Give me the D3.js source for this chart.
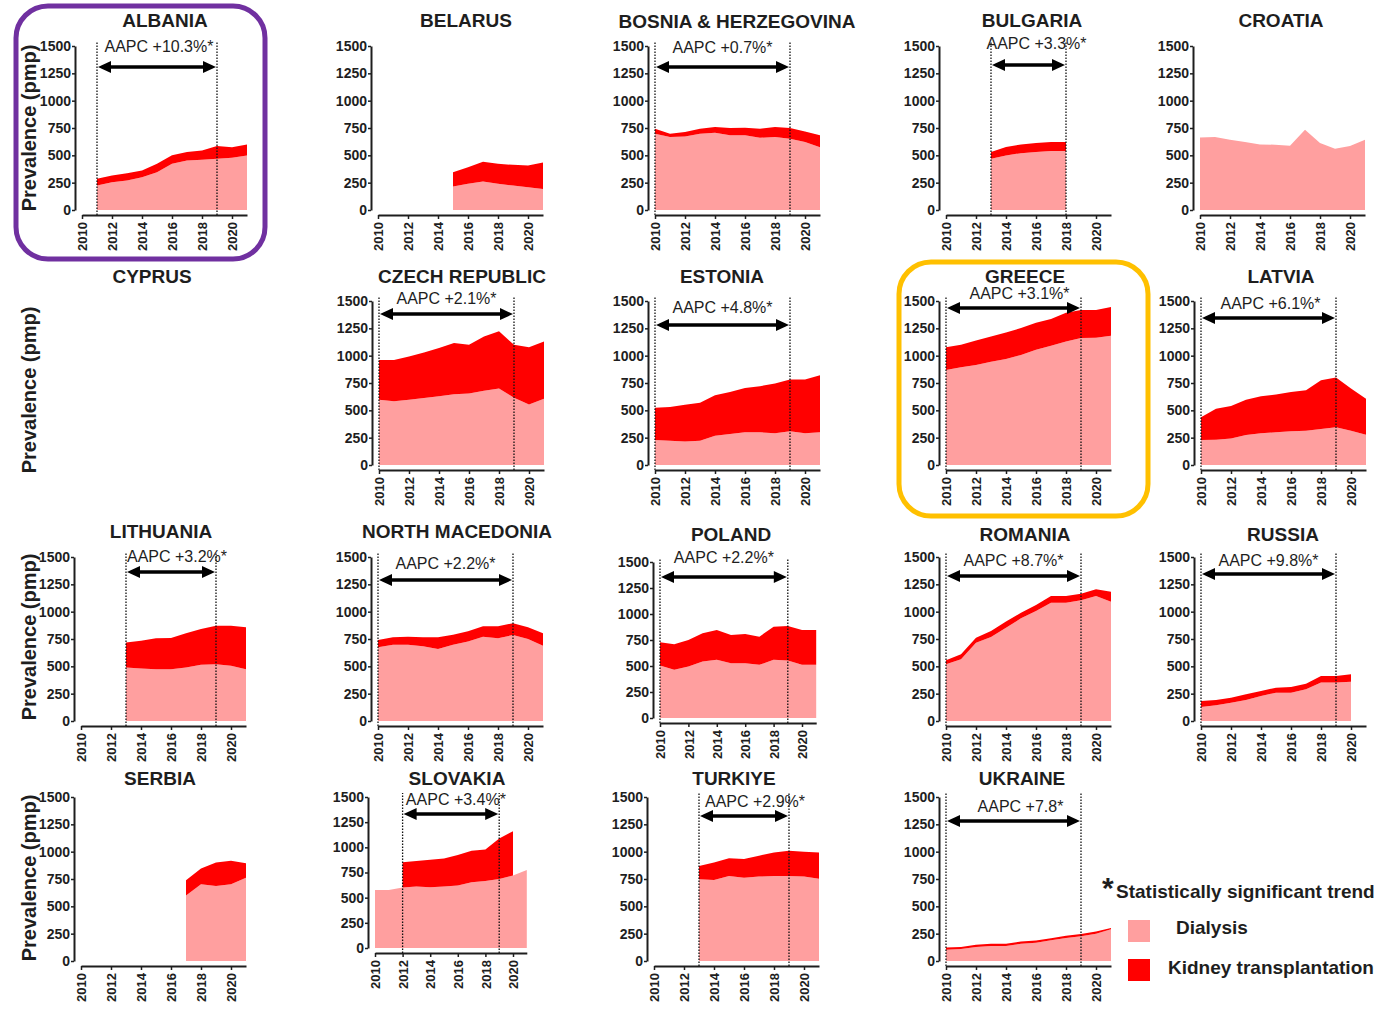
<!DOCTYPE html>
<html>
<head>
<meta charset="utf-8">
<script src="https://cdn.jsdelivr.net/npm/d3@7"></script>
<style>
  body { margin: 0; background: #fff; }
  svg { display: block; }
  text { font-family: "Liberation Sans", Arial, Helvetica, sans-serif; fill: #1e1e1e; }
</style>
</head>
<body>
<svg id="chart" width="1384" height="1009"></svg>
<script>
// ---------------- DATA ----------------
const countries = ["ALBANIA", "BELARUS", "BOSNIA & HERZEGOVINA", "BULGARIA", "CROATIA",
  "CYPRUS", "CZECH REPUBLIC", "ESTONIA", "GREECE", "LATVIA",
  "LITHUANIA", "NORTH MACEDONIA", "POLAND", "ROMANIA", "RUSSIA",
  "SERBIA", "SLOVAKIA", "TURKIYE", "UKRAINE"];

const years = [2010, 2011, 2012, 2013, 2014, 2015, 2016, 2017, 2018, 2019, 2020, 2021];
const yTicks = [0, 250, 500, 750, 1000, 1250, 1500];
const xTicks = [2010, 2012, 2014, 2016, 2018, 2020];
const seriesNames = ["Dialysis", "Kidney transplantation"];
const yAxisTitle = "Prevalence (pmp)";
const footnote = "Statistically significant trend";

// Dialysis prevalence (pmp), one row per country, 2010–2021
const dialysis = [
  [null, 223, 254, 270, 300, 346, 422, 453, 459, 468, 478, 499],
  [null, null, null, null, null, 214, 239, 260, 239, 223, 208, 193],
  [698, 667, 673, 698, 707, 683, 683, 661, 667, 652, 621, 575],
  [null, null, null, 469, 499, 520, 530, 539, 539, null, null, null],
  [662, 667, 643, 621, 600, 597, 588, 735, 612, 560, 585, 643],
  [null, null, null, null, null, null, null, null, null, null, null, null],
  [597, 582, 597, 613, 628, 647, 653, 678, 699, 616, 554, 607],
  [228, 222, 216, 222, 268, 283, 299, 299, 290, 308, 290, 299],
  [868, 893, 914, 945, 970, 1007, 1053, 1090, 1130, 1161, 1164, 1183],
  [228, 231, 243, 274, 290, 299, 308, 314, 330, 345, 314, 277],
  [null, null, null, 490, 481, 474, 474, 490, 514, 520, 505, 474],
  [674, 698, 698, 683, 658, 698, 726, 771, 756, 787, 750, 689],
  [504, 463, 495, 543, 559, 527, 527, 511, 559, 552, 511, 511],
  [518, 564, 716, 768, 854, 939, 1006, 1082, 1082, 1104, 1143, 1091],
  [128, 143, 168, 192, 229, 259, 259, 290, 351, 351, 360, null],
  [null, null, null, null, null, null, null, 600, 701, 686, 701, 762],
  [577, 577, 600, 610, 603, 610, 620, 653, 666, 686, 719, 775],
  [null, null, null, 747, 741, 778, 762, 772, 778, 778, 772, 753],
  [103, 109, 128, 137, 137, 158, 168, 189, 211, 226, 250, 291]
];

// Kidney transplantation prevalence (pmp), stacked on top of dialysis
const transplantation = [
  [null, 62, 61, 67, 61, 76, 78, 77, 86, 117, 97, 101],
  [null, null, null, null, null, 132, 153, 181, 183, 190, 199, 242],
  [46, 31, 40, 46, 52, 67, 70, 83, 92, 98, 98, 108],
  [null, null, null, 61, 77, 80, 82, 82, 82, null, null, null],
  [null, null, null, null, null, null, null, null, null, null, null, null],
  [null, null, null, null, null, null, null, null, null, null, null, null],
  [364, 379, 395, 416, 441, 468, 446, 498, 524, 483, 524, 523],
  [296, 308, 335, 348, 369, 385, 406, 422, 455, 474, 492, 523],
  [210, 206, 225, 231, 243, 246, 247, 246, 262, 256, 253, 261],
  [209, 283, 296, 323, 338, 345, 360, 370, 446, 456, 385, 330],
  [null, null, null, 229, 254, 282, 285, 312, 328, 352, 367, 383],
  [67, 67, 73, 82, 107, 92, 94, 95, 110, 107, 107, 113],
  [224, 246, 255, 271, 287, 271, 281, 271, 319, 332, 335, 335],
  [37, 46, 46, 55, 55, 52, 55, 61, 61, 61, 61, 92],
  [55, 49, 45, 52, 45, 46, 52, 51, 61, 61, 67, null],
  [null, null, null, null, null, null, null, 138, 144, 215, 215, 133],
  [null, null, 251, 254, 274, 280, 303, 313, 313, 402, 442, null],
  [null, null, null, 123, 160, 161, 170, 191, 215, 230, 227, 240],
  [20, 20, 20, 20, 20, 20, 20, 20, 20, 20, 20, 10]
];

const aapcText = ["AAPC +10.3%*", null, "AAPC +0.7%*", "AAPC +3.3%*", null,
  null, "AAPC +2.1%*", "AAPC +4.8%*", "AAPC +3.1%*", "AAPC +6.1%*",
  "AAPC +3.2%*", "AAPC +2.2%*", "AAPC +2.2%*", "AAPC +8.7%*", "AAPC +9.8%*",
  null, "AAPC +3.4%*", "AAPC +2.9%*", "AAPC +7.8*"];
const aapcFrom = [2011, null, 2010, 2013, null, null, 2010, 2010, 2010, 2010,
  2013, 2010, 2010, 2010, 2010, null, 2012, 2013, 2010];
const aapcTo = [2019, null, 2019, 2018, null, null, 2019, 2019, 2019, 2019,
  2019, 2019, 2019, 2019, 2019, null, 2019, 2019, 2019];

// ---------------- LAYOUT (positions, not data) ----------------
// x: pixel of 2010, step: px per year, top: px of 1500, zero: px of 0,
// tx/ty: title position, arrow: arrow level (in axis units), gap: text above arrow (px), dx: text shift
const layout = [
  {x: 82,   step: 15,   top: 46,  zero: 210, tx: 165,  ty: 27,  arrow: 1308, gap: 15, dx: 2},
  {x: 378,  step: 15,   top: 46,  zero: 210, tx: 466,  ty: 27},
  {x: 655,  step: 15,   top: 46,  zero: 210, tx: 737,  ty: 28,  arrow: 1308, gap: 14, dx: 0},
  {x: 946,  step: 15,   top: 46,  zero: 210, tx: 1032, ty: 27,  arrow: 1326, gap: 16, dx: 8},
  {x: 1200, step: 15,   top: 46,  zero: 210, tx: 1281, ty: 27},
  {axes: false,                                  tx: 152,  ty: 283},
  {x: 379,  step: 15,   top: 301, zero: 465, tx: 462,  ty: 283, arrow: 1381, gap: 10, dx: 0},
  {x: 655,  step: 15,   top: 301, zero: 465, tx: 722,  ty: 283, arrow: 1280, gap: 12, dx: 0},
  {x: 946,  step: 15,   top: 301, zero: 465, tx: 1025, ty: 283, arrow: 1436, gap: 9,  dx: 6},
  {x: 1201, step: 15,   top: 301, zero: 465, tx: 1281, ty: 283, arrow: 1345, gap: 9,  dx: 2},
  {x: 81,   step: 15,   top: 557, zero: 721, tx: 161,  ty: 538, arrow: 1363, gap: 10, dx: 6},
  {x: 378,  step: 15,   top: 557, zero: 721, tx: 457,  ty: 538, arrow: 1290, gap: 11, dx: 0},
  {x: 660,  step: 14.2, top: 562, zero: 718, tx: 731,  ty: 541, arrow: 1356, gap: 14, dx: 0},
  {x: 946,  step: 15,   top: 557, zero: 721, tx: 1025, ty: 541, arrow: 1326, gap: 10, dx: 0},
  {x: 1201, step: 15,   top: 557, zero: 721, tx: 1283, ty: 541, arrow: 1345, gap: 8,  dx: 0},
  {x: 81,   step: 15,   top: 797, zero: 961, tx: 160,  ty: 785},
  {x: 375,  step: 13.8, top: 797, zero: 948, tx: 457,  ty: 785, arrow: 1331, gap: 9,  dx: 5},
  {x: 654,  step: 15,   top: 797, zero: 961, tx: 734,  ty: 785, arrow: 1326, gap: 9,  dx: 11},
  {x: 946,  step: 15,   top: 797, zero: 961, tx: 1022, ty: 785, arrow: 1280, gap: 9,  dx: 7}
];
const yTitleCenters = [128, 390, 637, 878];

const COL_DIAL = "#ff9f9f";
const COL_TX = "#ff0000";
const INK = "#1e1e1e";

// ---------------- DRAW ----------------
const svg = d3.select("#chart");
svg.append("rect").attr("width", 1384).attr("height", 1009).attr("fill", "#fff");

countries.forEach((name, i) => {
  const L = layout[i];
  const g = svg.append("g");

  g.append("text")
    .attr("x", L.tx).attr("y", L.ty)
    .attr("text-anchor", "middle")
    .attr("font-size", 19).attr("font-weight", "bold")
    .text(name);

  if (L.axes === false) return;

  const xs = d3.scaleLinear().domain([years[0], years[years.length - 1]])
    .range([L.x, L.x + (years.length - 1) * L.step]);
  const ys = d3.scaleLinear().domain([0, 1500]).range([L.zero, L.top]);

  const rows = years.map((yr, j) => ({year: yr, dial: dialysis[i][j], tr: transplantation[i][j]}));

  const areaDial = d3.area()
    .defined(d => d.dial != null)
    .x(d => xs(d.year)).y0(ys(0)).y1(d => ys(d.dial));
  const areaTx = d3.area()
    .defined(d => d.dial != null && d.tr != null)
    .x(d => xs(d.year)).y0(d => ys(d.dial)).y1(d => ys(d.dial + d.tr));

  g.append("path").datum(rows).attr("d", areaDial).attr("fill", COL_DIAL);
  g.append("path").datum(rows).attr("d", areaTx).attr("fill", COL_TX);

  // y axis
  const yAx = g.append("g")
    .attr("transform", `translate(${L.x - 7},0)`)
    .call(d3.axisLeft(ys).tickValues(yTicks).tickSize(3).tickSizeOuter(0).tickPadding(1)
      .tickFormat(d3.format("d")));
  yAx.select(".domain").attr("stroke", INK).attr("stroke-width", 2);
  yAx.selectAll(".tick line").attr("stroke", INK).attr("stroke-width", 1.5);
  yAx.selectAll(".tick text")
    .attr("font-size", 14).attr("font-weight", "bold")
    .attr("fill", INK)
    .style("font-family", '"Liberation Sans", Arial, sans-serif');

  // x axis
  const xAx = g.append("g")
    .attr("transform", `translate(0,${L.zero + 5})`)
    .call(d3.axisBottom(xs).tickValues(xTicks).tickSize(4).tickSizeOuter(0).tickFormat(d3.format("d")));
  xAx.select(".domain").attr("stroke", INK).attr("stroke-width", 2);
  xAx.selectAll(".tick line").attr("stroke", INK).attr("stroke-width", 1.5);
  xAx.selectAll(".tick text")
    .attr("font-size", 13).attr("font-weight", "bold")
    .attr("fill", INK)
    .style("font-family", '"Liberation Sans", Arial, sans-serif')
    .attr("transform", "rotate(-90)")
    .attr("text-anchor", "end")
    .attr("x", -7).attr("y", 0).attr("dy", "0.36em");

  // AAPC annotation
  if (aapcText[i]) {
    const xa = xs(aapcFrom[i]), xb = xs(aapcTo[i]);
    const ya = ys(L.arrow);
    [xa, xb].forEach(xx => {
      g.append("line")
        .attr("x1", xx).attr("x2", xx)
        .attr("y1", L.zero + 5).attr("y2", ys(1500) - 4)
        .attr("stroke", "#111").attr("stroke-width", 1.3)
        .attr("stroke-dasharray", "1.6,1.4");
    });
    const head = 13, hw = 6;
    g.append("line")
      .attr("x1", xa + head - 2).attr("x2", xb - head + 2)
      .attr("y1", ya).attr("y2", ya)
      .attr("stroke", "#000").attr("stroke-width", 3.5);
    g.append("path")
      .attr("d", `M${xa + 1},${ya} L${xa + 1 + head},${ya - hw} L${xa + 1 + head},${ya + hw} Z`)
      .attr("fill", "#000");
    g.append("path")
      .attr("d", `M${xb - 1},${ya} L${xb - 1 - head},${ya - hw} L${xb - 1 - head},${ya + hw} Z`)
      .attr("fill", "#000");
    g.append("text")
      .attr("x", (xa + xb) / 2 + L.dx).attr("y", ya - L.gap)
      .attr("text-anchor", "middle")
      .attr("font-size", 16)
      .text(aapcText[i]);
  }
});

// y-axis titles (one per row)
yTitleCenters.forEach(cy => {
  svg.append("text")
    .attr("transform", `translate(36,${cy}) rotate(-90)`)
    .attr("text-anchor", "middle")
    .attr("font-size", 20).attr("font-weight", "bold")
    .text(yAxisTitle);
});

// highlight boxes
svg.append("rect").attr("x", 16).attr("y", 6).attr("width", 249).attr("height", 253)
  .attr("rx", 32).attr("fill", "none").attr("stroke", "#7030a0").attr("stroke-width", 5);
svg.append("rect").attr("x", 899).attr("y", 262).attr("width", 249).attr("height", 254)
  .attr("rx", 32).attr("fill", "none").attr("stroke", "#ffc000").attr("stroke-width", 5);

// legend
const lg = svg.append("g");
lg.append("text").attr("x", 1102).attr("y", 898).attr("font-size", 30).attr("font-weight", "bold").text("*");
lg.append("text").attr("x", 1116).attr("y", 898).attr("font-size", 19).attr("font-weight", "bold").text(footnote);
lg.append("rect").attr("x", 1128).attr("y", 920).attr("width", 22).attr("height", 22).attr("fill", COL_DIAL);
lg.append("text").attr("x", 1176).attr("y", 934).attr("font-size", 19).attr("font-weight", "bold").text(seriesNames[0]);
lg.append("rect").attr("x", 1128).attr("y", 959).attr("width", 22).attr("height", 22).attr("fill", COL_TX);
lg.append("text").attr("x", 1168).attr("y", 974).attr("font-size", 19).attr("font-weight", "bold").text(seriesNames[1]);
</script>
</body>
</html>
